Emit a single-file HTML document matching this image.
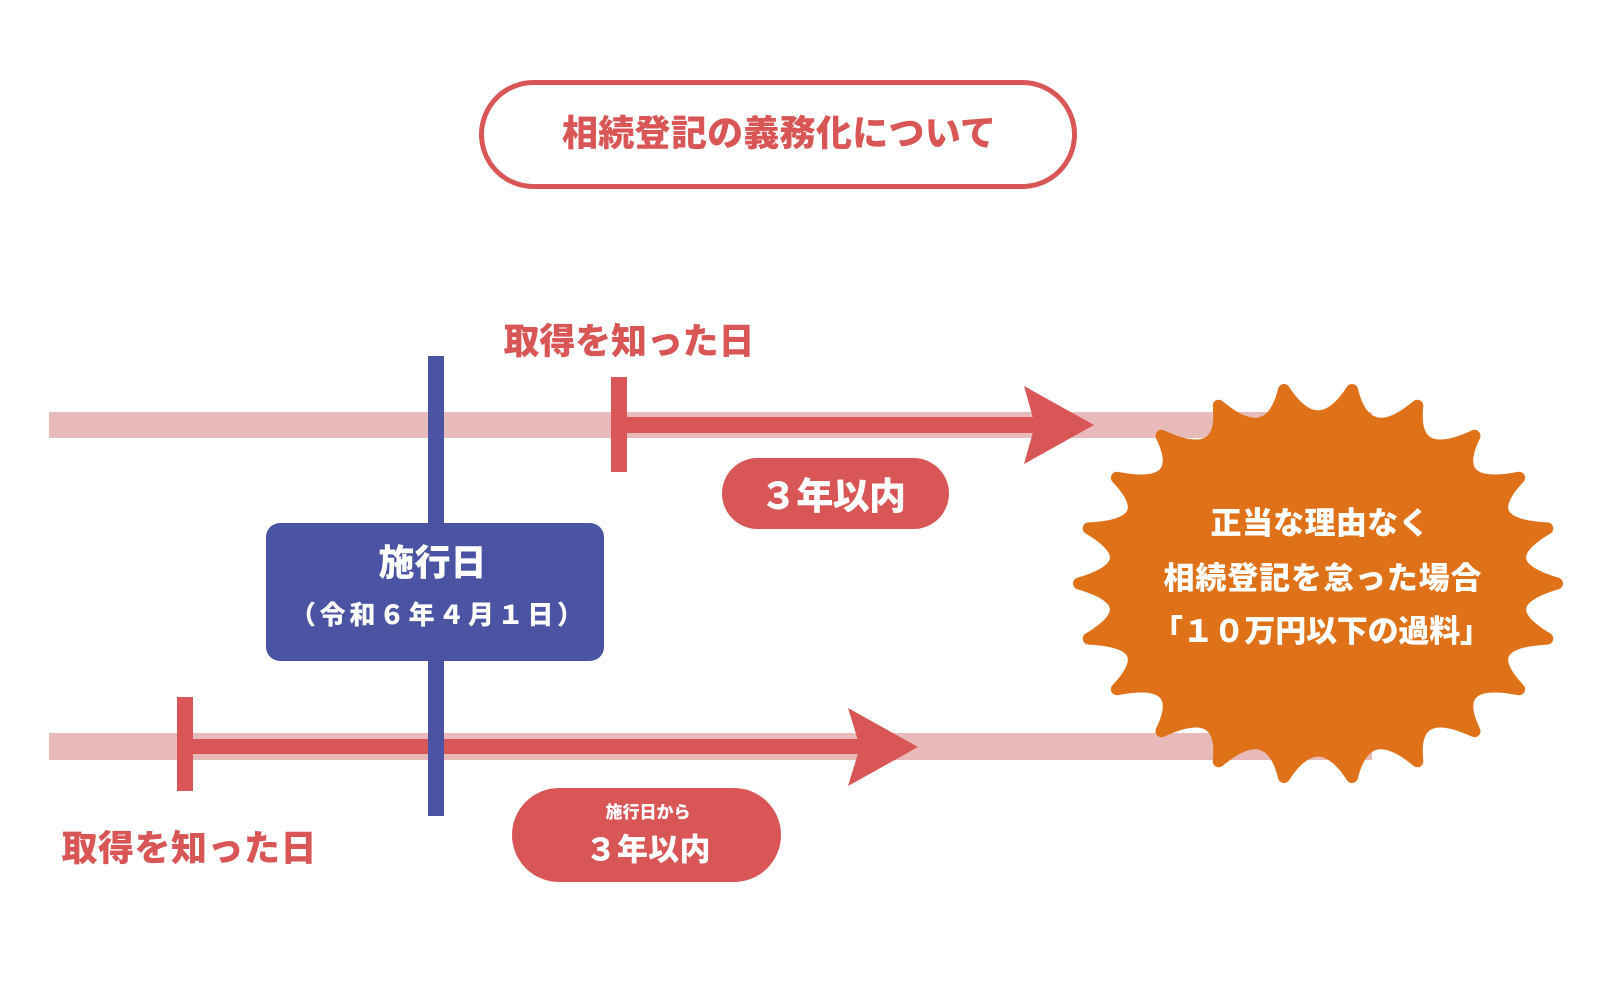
<!DOCTYPE html>
<html>
<head>
<meta charset="utf-8">
<style>
  html,body{margin:0;padding:0;background:#fff;}
  svg{display:block;}
  text{font-family:"Liberation Sans","Noto Sans CJK JP","Noto Sans CJK SC",sans-serif;font-weight:900;}
</style>
</head>
<body>
<svg width="1600" height="982" viewBox="0 0 1600 982" xmlns="http://www.w3.org/2000/svg">
  <rect x="0" y="0" width="1600" height="982" fill="#ffffff"/>

  <!-- Title pill -->
  <rect x="481.5" y="82.5" width="593" height="104" rx="52" ry="52" fill="#ffffff" stroke="#d85656" stroke-width="5"/>
  <text x="779" y="145.7" font-size="36" fill="#d85656" text-anchor="middle" textLength="434" lengthAdjust="spacing">相続登記の義務化について</text>

  <!-- Pink timeline bars -->
  <rect x="49" y="412" width="1323" height="26" fill="#e8baba"/>
  <rect x="49" y="733" width="1323" height="27" fill="#e8baba"/>

  <!-- Top red arrow -->
  <rect x="611" y="417" width="426" height="16" fill="#d85656"/>
  <rect x="611" y="377" width="16" height="95" fill="#d85656"/>
  <polygon points="1024,386 1094,425 1024,464 1035,425" fill="#d85656"/>

  <!-- Bottom red arrow -->
  <rect x="177" y="739" width="685" height="15" fill="#d85656"/>
  <rect x="177" y="697" width="16" height="94" fill="#d85656"/>
  <polygon points="848,708 918,747 848,786 860,747" fill="#d85656"/>

  <!-- Blue vertical line + box -->
  <rect x="428" y="356" width="16" height="460" fill="#4a54a2"/>
  <rect x="266" y="523" width="338" height="138" rx="14" ry="14" fill="#4a54a2"/>
  <text x="432.5" y="575" font-size="36" fill="#ffffff" text-anchor="middle">施行日</text>
  <text x="436.5" y="624" font-size="26" fill="#ffffff" text-anchor="middle" textLength="293" lengthAdjust="spacing">（令和６年４月１日）</text>

  <!-- Labels -->
  <text x="629" y="353.7" font-size="36" fill="#d85656" text-anchor="middle" textLength="251" lengthAdjust="spacing">取得を知った日</text>
  <text x="189" y="860.7" font-size="36" fill="#d85656" text-anchor="middle" textLength="255" lengthAdjust="spacing">取得を知った日</text>

  <!-- Top pill -->
  <rect x="722" y="458" width="227" height="71" rx="35.5" ry="35.5" fill="#d85656"/>
  <text x="833" y="509" font-size="37" fill="#ffffff" text-anchor="middle" textLength="146" lengthAdjust="spacing">３年以内</text>

  <!-- Bottom pill -->
  <rect x="512" y="788" width="269" height="94" rx="47" ry="47" fill="#d85656"/>
  <text x="648" y="818" font-size="17" fill="#ffffff" text-anchor="middle" textLength="85" lengthAdjust="spacing">施行日から</text>
  <text x="648" y="860.5" font-size="31" fill="#ffffff" text-anchor="middle" textLength="125" lengthAdjust="spacing">３年以内</text>

  <!-- Starburst -->
  <path d="M1557,583.5 Q1488.3,603.5 1547.3,638.6 Q1474.5,642 1519.1,689.2 Q1448,675.7 1474.5,731.2 Q1411,701.9 1417.3,761.3 Q1366.5,718.6 1352,777 Q1318,724.3 1284,777 Q1269.5,718.6 1218.7,761.3 Q1225,701.9 1161.5,731.2 Q1188,675.7 1116.9,689.2 Q1161.5,642 1088.7,638.6 Q1147.7,603.5 1079,583.5 Q1147.7,563.5 1088.7,528.4 Q1161.5,525 1116.9,477.8 Q1188,491.3 1161.5,435.8 Q1225,465.1 1218.7,405.7 Q1269.5,448.4 1284,390 Q1318,442.7 1352,390 Q1366.5,448.4 1417.3,405.7 Q1411,465.1 1474.5,435.8 Q1448,491.3 1519.1,477.8 Q1474.5,525 1547.3,528.4 Q1488.3,563.5 1557,583.5 Z"
        fill="#df7119" stroke="#df7119" stroke-width="12" stroke-linejoin="round"/>
  <text x="1320" y="534" font-size="31" fill="#ffffff" text-anchor="middle" textLength="219" lengthAdjust="spacing">正当な理由なく</text>
  <text x="1322.5" y="589" font-size="31" fill="#ffffff" text-anchor="middle" textLength="318" lengthAdjust="spacing">相続登記を怠った場合</text>
  <text x="1321.5" y="642" font-size="31" fill="#ffffff" text-anchor="middle" textLength="339" lengthAdjust="spacing">「１０万円以下の過料」</text>
</svg>
</body>
</html>
